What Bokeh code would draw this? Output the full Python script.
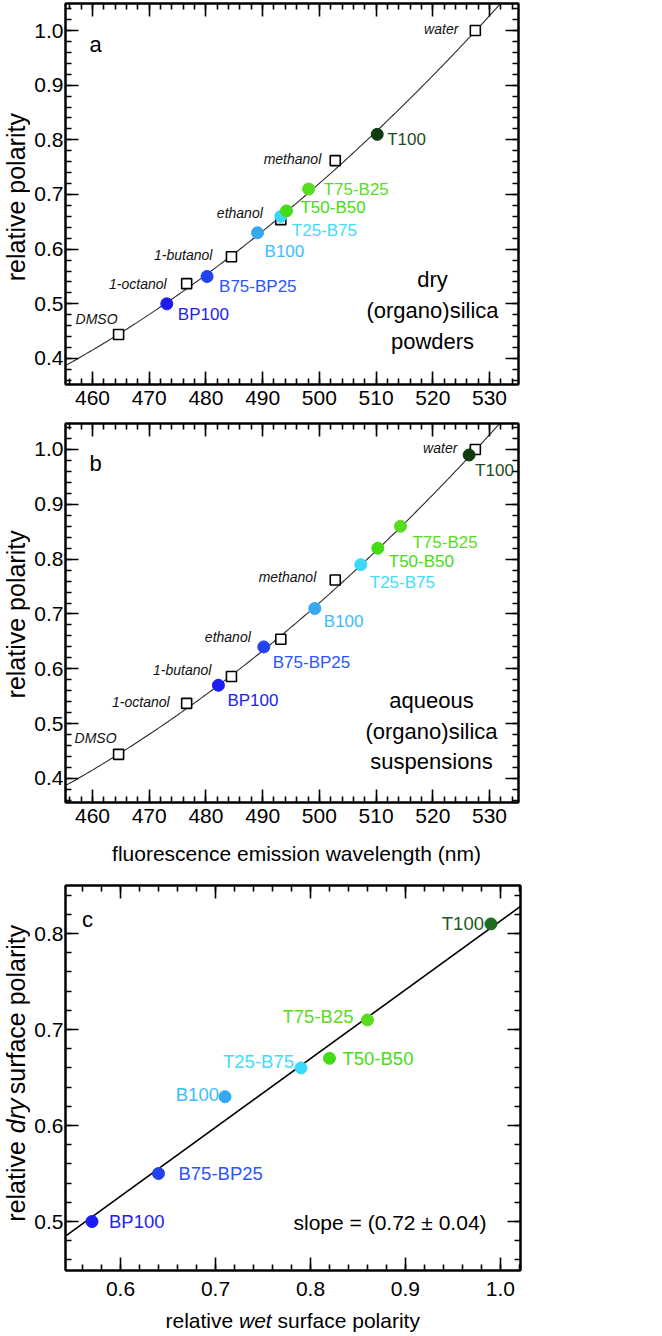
import numpy as np
from bokeh.plotting import figure
from bokeh.layouts import column, row
from bokeh.models import (Range1d, LinearAxis, Label, ColumnDataSource,
                          SingleIntervalTicker, PrintfTickFormatter, CustomJSTickFormatter)
from bokeh.embed import file_html
from bokeh.resources import INLINE
from bokeh.core.properties import value

FONT = "Liberation Sans"

# ---------------- data ----------------
solvent_names = ["DMSO", "1-octanol", "1-butanol", "ethanol", "methanol", "water"]
solvent_wavelength = [464.6, 476.6, 484.5, 493.2, 502.8, 527.5]
solvent_polarity = [0.444, 0.537, 0.586, 0.654, 0.762, 1.000]

sample_names = ["BP100", "B75-BP25", "B100", "T25-B75", "T50-B50", "T75-B25", "T100"]
dry_wavelength = [473.1, 480.2, 489.1, 493.2, 494.2, 498.1, 510.2]
dry_polarity = [0.50, 0.55, 0.63, 0.66, 0.67, 0.71, 0.81]
wet_wavelength = [482.2, 490.2, 499.2, 507.3, 510.3, 514.3, 526.4]
wet_polarity = [0.57, 0.64, 0.71, 0.79, 0.82, 0.86, 0.99]

# points
curve_wavelength = [455.2, 464.6, 473.1, 480.2, 489.1, 494.2, 498.1, 507.3, 510.2, 514.3, 526.4, 532.0]
curve_polarity = [0.387, 0.446, 0.500, 0.550, 0.630, 0.668, 0.709, 0.788, 0.812, 0.858, 0.988, 1.050]

x_title_ab = "fluorescence emission wavelength (nm)"
y_title_ab = "relative polarity"
slope_text = "slope = (0.72 \u00b1 0.04)"

# ---------------- styles ----------------
dot_colors = ["#1c1cf4", "#2242f2", "#35a8ee", "#3ad8fa", "#41dc14", "#58dc1e", "#0e3c0e"]
lab_colors = ["#2222f0", "#2a55ff", "#3cbcff", "#40dcff", "#44dd14", "#58dd20", "#1d4d1d"]
dot_colors_c = dot_colors[:-1] + ["#1f6b1f"]
lab_colors_c = lab_colors[:-1] + ["#1e5a1e"]

FRAME_LEFT = 65
AB_X = (455.24, 535.11)
A_Y = (0.3524, 1.0494)
B_Y = (0.3562, 1.0474)
C_X = (0.5421, 1.0211)
C_Y = (0.449, 0.850)
FW_AB, FW_C = 453, 455
FH_A, FH_B, FH_C = 381, 379, 385
TOP_A, TOP_B, TOP_C = 3, 423, 885
TW = 30   # width of the strip holding the vertical titles
VFIX = 17  # measured upward drift of the rotated titles
DOT = 12


def make_fig(xr, yr, fw, fh, btop, bbottom):
    p = figure(x_range=Range1d(*xr), y_range=Range1d(*yr), frame_width=fw, frame_height=fh,
               min_border_left=FRAME_LEFT - TW, min_border_right=10, min_border_top=btop,
               min_border_bottom=bbottom, output_backend="svg", toolbar_location=None)
    p.grid.visible = False
    p.outline_line_color = "black"
    p.outline_line_width = 2
    p.background_fill_color = "white"
    p.border_fill_color = "white"
    return p


def title_fig(w, h):
    t = figure(width=w, height=h, x_range=Range1d(0, w), y_range=Range1d(0, h), min_border=0,
               x_axis_type=None, y_axis_type=None, output_backend="svg", toolbar_location=None)
    t.outline_line_color = None
    t.grid.visible = False
    return t


def style_axis(ax, interval, fmt, standoff, labels=True):
    ax.ticker = SingleIntervalTicker(interval=interval, num_minor_ticks=5)
    ax.axis_line_color = "black"
    ax.axis_line_width = 2
    ax.major_tick_in = 13
    ax.major_tick_out = 0
    ax.minor_tick_in = 6
    ax.minor_tick_out = 0
    ax.major_tick_line_color = "black"
    ax.major_tick_line_width = 1.6
    ax.minor_tick_line_color = "black"
    ax.minor_tick_line_width = 1.6
    if labels:
        ax.formatter = PrintfTickFormatter(format=fmt)
        ax.major_label_text_font = FONT
        ax.major_label_text_font_size = "21px"
        ax.major_label_text_color = "black"
        ax.major_label_standoff = standoff
    else:
        ax.formatter = CustomJSTickFormatter(code="return ''")
        ax.major_label_text_font_size = "0px"
        ax.major_label_standoff = 0


def setup_axes(p, xint, xfmt, yint, yfmt, xstand, ystand):
    style_axis(p.xaxis[0], xint, xfmt, xstand)
    style_axis(p.yaxis[0], yint, yfmt, ystand)
    top = LinearAxis()
    right = LinearAxis()
    p.add_layout(top, "above")
    p.add_layout(right, "right")
    style_axis(top, xint, xfmt, 0, labels=False)
    style_axis(right, yint, yfmt, 0, labels=False)


def scales(xr, yr, fw, fh):
    return fw / (xr[1] - xr[0]), fh / (yr[1] - yr[0])


def win(xr, yr, fw, fh, top, wx, wy):
    ppx, ppy = scales(xr, yr, fw, fh)
    return xr[0] + (wx - FRAME_LEFT) / ppx, yr[1] - (wy - top) / ppy


def shifted(xs, ys, dxs, dys, xr, yr, fw, fh):
    ppx, ppy = scales(xr, yr, fw, fh)
    return ([x + dx / ppx for x, dx in zip(xs, dxs)],
            [y - dy / ppy for y, dy in zip(ys, dys)])


def add_label(p, geom, wx, wy, text, size, align="center", style="normal", color="black"):
    x, y = win(*geom, wx, wy)
    p.add_layout(Label(x=x, y=y, text=text, text_font=FONT, text_font_size=size,
                       text_font_style=style, text_color=color, text_align=align,
                       text_baseline="middle"))


def text_glyph(p, xs, ys, texts, colors, size, align, style="normal", angle=0.0):
    src = ColumnDataSource(dict(x=xs, y=ys, t=texts, c=colors))
    p.text("x", "y", text="t", text_color="c", source=src, text_font=value(FONT),
           text_font_size=size, text_align=align, text_baseline="middle",
           text_font_style=style, angle=angle)


def calib_panel(p, geom, wl, pol, solv_dx, solv_dy, samp_dx, samp_dy):
    fit = np.polyfit(curve_wavelength, curve_polarity, 2)
    cx = np.linspace(AB_X[0], AB_X[1], 200)
    p.line(cx, np.polyval(fit, cx), line_color="#2a2a2a", line_width=1.1)
    p.scatter(solvent_wavelength, solvent_polarity, marker="square", size=10,
              fill_color="white", line_color="black", line_width=1.6)
    p.scatter(wl, pol, marker="circle", size=DOT, fill_color=dot_colors,
              line_color=dot_colors)
    sx, sy = shifted(solvent_wavelength, solvent_polarity, solv_dx, solv_dy, *geom[:4])
    text_glyph(p, sx, sy, solvent_names, ["#111111"] * 6, "14px", "right", "italic")
    lx, ly = shifted(wl, pol, samp_dx, samp_dy, *geom[:4])
    text_glyph(p, lx, ly, sample_names, lab_colors, "17px", "left")


# ---------------- panel a ----------------
geom_a = (AB_X, A_Y, FW_AB, FH_A, TOP_A)
pa = make_fig(AB_X, A_Y, FW_AB, FH_A, 3, 37)
setup_axes(pa, 10, "%d", 0.1, "%.1f", 6, 2)
calib_panel(pa, geom_a, dry_wavelength, dry_polarity,
            [-1, -20, -19, -18, -14, -17], [-15, 0, -2, -7, -2, -2],
            [11, 12, 7, 11, 14, 15, 10], [11, 10, 19, 14, -3, 0, 5])
add_label(pa, geom_a, 95, 44, "a", "22px")
for txt, wy in zip(["dry", "(organo)silica", "powders"], [279, 310, 341]):
    add_label(pa, geom_a, 432, wy, txt, "22px")
ha = 3 + FH_A + 37
yt_a = title_fig(TW, ha)
text_glyph(yt_a, [15], [ha - 197 - VFIX], [y_title_ab], ["black"], "25px", "center",
           angle=np.pi / 2)

# ---------------- panel b ----------------
geom_b = (AB_X, B_Y, FW_AB, FH_B, TOP_B)
pb = make_fig(AB_X, B_Y, FW_AB, FH_B, 2, 34)
setup_axes(pb, 10, "%d", 0.1, "%.1f", 6, 2)
calib_panel(pb, geom_b, wet_wavelength, wet_polarity,
            [-2, -17, -20, -30, -19, -18], [-16, -1, -6, -2, -3, -1],
            [9, 9, 9, 9, 11, 12, 6], [15, 16, 13, 18, 13, 16, 16])
add_label(pb, geom_b, 95, 463, "b", "22px")
for txt, wy in zip(["aqueous", "(organo)silica", "suspensions"], [700, 731, 761]):
    add_label(pb, geom_b, 431, wy, txt, "22px")
top_b_fig = ha
hb = 2 + FH_B + 34
yt_b = title_fig(TW, hb)
text_glyph(yt_b, [15], [top_b_fig + hb - 613 - VFIX], [y_title_ab], ["black"], "25px",
           "center", angle=np.pi / 2)
top_xb = top_b_fig + hb
xt_b_h = 882 - top_xb
xt_b = title_fig(TW + 498, xt_b_h)
text_glyph(xt_b, [296], [882 - 853], [x_title_ab], ["black"], "21px", "center")

# ---------------- panel c ----------------
geom_c = (C_X, C_Y, FW_C, FH_C, TOP_C)
pc = make_fig(C_X, C_Y, FW_C, FH_C, 3, 38)
setup_axes(pc, 0.1, "%.1f", 0.1, "%.1f", 11, 2)
fit_c = np.polyfit(wet_polarity, dry_polarity, 1)
lx_c = np.array(C_X)
pc.line(lx_c, np.polyval(fit_c, lx_c), line_color="black", line_width=1.6)
pc.scatter(wet_polarity, dry_polarity, marker="circle", size=DOT,
           fill_color=dot_colors_c, line_color=dot_colors_c)
c_align = ["left", "left", "right", "right", "left", "right", "right"]
c_dx = [17, 20, -6, -7, 13, -14, -7]
c_dy = [0, 0, -2, -6, 0, -3, 0]
cx_l, cy_l = shifted(wet_polarity, dry_polarity, c_dx, c_dy, *geom_c[:4])
for al in ["left", "right"]:
    idx = [i for i, a in enumerate(c_align) if a == al]
    text_glyph(pc, [cx_l[i] for i in idx], [cy_l[i] for i in idx],
               [sample_names[i] for i in idx], [lab_colors_c[i] for i in idx], "18.5px", al)
add_label(pc, geom_c, 87, 919, "c", "22px")
add_label(pc, geom_c, 293, 1222, slope_text, "21px", align="left")

top_c_fig = 882
hc = 3 + FH_C + 38
yt_c = title_fig(TW, hc)
# vertical title with italic "dry", reading upward
yc_center = top_c_fig + hc - 1082 - VFIX
yc0 = yc_center - 155
text_glyph(yt_c, [15], [yc0], ["relative"], ["black"], "25px", "left", angle=np.pi / 2)
text_glyph(yt_c, [15], [yc0 + 98], ["dry"], ["black"], "25px", "left", style="italic",
           angle=np.pi / 2)
text_glyph(yt_c, [15], [yc0 + 98 + 43], ["surface polarity"], ["black"], "25px", "left",
           angle=np.pi / 2)

top_xc = top_c_fig + hc
xt_c_h = 1334 - top_xc
xt_c = title_fig(TW + 500, xt_c_h)
xc0 = 165
yc_mid = 1334 - 1320
text_glyph(xt_c, [xc0], [yc_mid], ["relative"], ["black"], "21px", "left")
text_glyph(xt_c, [xc0 + 73.5], [yc_mid], ["wet"], ["black"], "21px", "left", style="italic")
text_glyph(xt_c, [xc0 + 73.5 + 38.5], [yc_mid], ["surface polarity"], ["black"], "21px", "left")

layout = column(row(yt_a, pa), row(yt_b, pb), xt_b, row(yt_c, pc), xt_c)
open("out.html", "w").write(file_html(layout, INLINE))
